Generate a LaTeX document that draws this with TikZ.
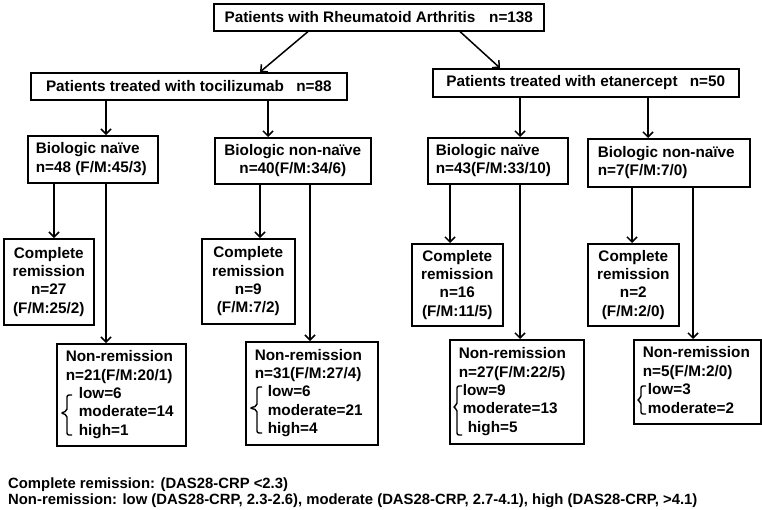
\documentclass[tikz,border=0pt]{standalone}
\usepackage{fontspec}
\setmainfont{Liberation Sans}
\usetikzlibrary{arrows.meta,calc}
\newcommand\leftblock[2]{\makebox[#1][l]{\begin{tabular}{@{}l@{}}#2\end{tabular}}}
\newcommand\ind[1]{\hspace*{#1pt}}
\begin{document}
\begin{tikzpicture}[x=1pt,y=-1pt,
  boxtext/.style={font=\bfseries\fontsize{15.3}{18.4}\selectfont},
  box/.style={draw, line width=1.6pt, anchor=north west, inner sep=0pt, align=center, boxtext},
  lbox/.style={draw, line width=1.6pt, anchor=north west, inner ysep=0pt, boxtext},
  arr/.style={line width=1.5pt, -{Straight Barb[length=5pt,width=10pt]}},
  brk/.style={line width=1.4pt, rounded corners=2pt},
  foot/.style={anchor=base west, inner sep=0pt, font=\bfseries\fontsize{14.85}{16}\selectfont}]
\useasboundingbox (0,0) rectangle (762,509);

% level 0
\node[box, minimum width=330pt, minimum height=27pt] (top) at (213,3) {Patients with Rheumatoid Arthritis\hspace{0.9em}n=138};
% level 1
\node[box, minimum width=316pt, minimum height=27pt] (toc) at (30,72) {Patients treated with tocilizumab\hspace{0.8em}n=88};
\node[box, minimum width=306pt, minimum height=28pt] (eta) at (432,68) {Patients treated with etanercept\hspace{0.8em}n=50};
% level 2
\node[lbox, inner xsep=8pt, minimum height=47pt] (bn1) at (27,135) {\leftblock{114pt}{Biologic naïve\\n=48 (F/M:45/3)}};
\node[box, minimum width=156pt, minimum height=46pt] (bnn1) at (214,137) {Biologic non-naïve\\n=40(F/M:34/6)};
\node[lbox, inner xsep=8pt, minimum height=46pt] (bn2) at (427,137) {\leftblock{124pt}{Biologic naïve\\n=43(F/M:33/10)}};
\node[lbox, inner xsep=10pt, minimum height=48pt] (bnn2) at (587,138) {\leftblock{142pt}{Biologic non-naïve\\n=7(F/M:7/0)}};
% level 3: complete remission
\node[box, minimum width=90pt, minimum height=86pt] (cr1) at (3,238) {Complete\\remission\\n=27\\(F/M:25/2)};
\node[box, minimum width=93pt, minimum height=85pt] (cr2) at (201,238) {Complete\\remission\\n=9\\(F/M:7/2)};
\node[box, minimum width=91pt, minimum height=82pt] (cr3) at (411,243) {Complete\\remission\\n=16\\(F/M:11/5)};
\node[box, minimum width=91pt, minimum height=82pt] (cr4) at (587,243) {Complete\\remission\\n=2\\(F/M:2/0)};
% level 4: non-remission
\node[lbox, inner xsep=9pt, minimum height=102pt] (nr1) at (56,343) {\leftblock{111pt}{Non-remission\\n=21(F/M:20/1)\\\ind{13}low=6\\\ind{13}moderate=14\\\ind{13}high=1}};
\node[lbox, inner xsep=9pt, minimum height=103pt] (nr2) at (245,341) {\leftblock{114pt}{Non-remission\\n=31(F/M:27/4)\\\ind{13}low=6\\\ind{13}moderate=21\\\ind{13}high=4}};
\node[lbox, inner xsep=9pt, minimum height=104pt] (nr3) at (449,339) {\leftblock{116pt}{Non-remission\\n=27(F/M:22/5)\\\ind{4}low=9\\\ind{4}moderate=13\\\ind{9}high=5}};
\node[lbox, inner xsep=9pt, minimum height=84pt] (nr4) at (633,339) {\leftblock{109pt}{Non-remission\\n=5(F/M:2/0)\\\ind{5}low=3\\\ind{5}moderate=2}};

% brackets
\draw[brk] ($(nr1.north west)+(16,52)$) -- ($(nr1.north west)+(11,52)$) -- ($(nr1.north west)+(11,68)$) -- ($(nr1.north west)+(5,70)$) -- ($(nr1.north west)+(11,72)$) -- ($(nr1.north west)+(11,92)$) -- ($(nr1.north west)+(16,92)$);
\draw[brk] ($(nr2.north west)+(17,46)$) -- ($(nr2.north west)+(12,46)$) -- ($(nr2.north west)+(12,65)$) -- ($(nr2.north west)+(5,67)$) -- ($(nr2.north west)+(12,69)$) -- ($(nr2.north west)+(12,92)$) -- ($(nr2.north west)+(17,92)$);
\draw[brk] ($(nr3.north west)+(13,47)$) -- ($(nr3.north west)+(8,47)$) -- ($(nr3.north west)+(8,66)$) -- ($(nr3.north west)+(4,68)$) -- ($(nr3.north west)+(8,70)$) -- ($(nr3.north west)+(8,96)$) -- ($(nr3.north west)+(13,96)$);
\draw[brk] ($(nr4.north west)+(13,47)$) -- ($(nr4.north west)+(8,47)$) -- ($(nr4.north west)+(8,59)$) -- ($(nr4.north west)+(4,61)$) -- ($(nr4.north west)+(8,63)$) -- ($(nr4.north west)+(8,75)$) -- ($(nr4.north west)+(13,75)$);

% arrows
\draw[arr] ($(top.south west)+(95,0)$) -- ($(toc.north west)+(230,0)$);
\draw[arr] ($(top.south west)+(247,0)$) -- ($(eta.north west)+(68,0)$);
\draw[arr] (toc.south -| 106,0) -- (bn1.north -| 106,0);
\draw[arr] (toc.south -| 268,0) -- (bnn1.north -| 268,0);
\draw[arr] (eta.south -| 520,0) -- (bn2.north -| 520,0);
\draw[arr] (eta.south -| 648,0) -- (bnn2.north -| 648,0);
\draw[arr] (bn1.south -| 54,0) -- (cr1.north -| 54,0);
\draw[arr] (bn1.south -| 106,0) -- (nr1.north -| 106,0);
\draw[arr] (bnn1.south -| 260,0) -- (cr2.north -| 260,0);
\draw[arr] (bnn1.south -| 310,0) -- (nr2.north -| 310,0);
\draw[arr] (bn2.south -| 450,0) -- (cr3.north -| 450,0);
\draw[arr] (bn2.south -| 520,0) -- (nr3.north -| 520,0);
\draw[arr] (bnn2.south -| 632,0) -- (cr4.north -| 632,0);
\draw[arr] (bnn2.south -| 693,0) -- (nr4.north -| 693,0);

% footnote
\node[foot] (foot1) at (8,488) {Complete remission: (DAS28-CRP <2.3)};
\node[foot] (foot2) at (8,504) {Non-remission: low (DAS28-CRP, 2.3-2.6), moderate (DAS28-CRP, 2.7-4.1), high (DAS28-CRP, >4.1)};
\end{tikzpicture}
\end{document}
